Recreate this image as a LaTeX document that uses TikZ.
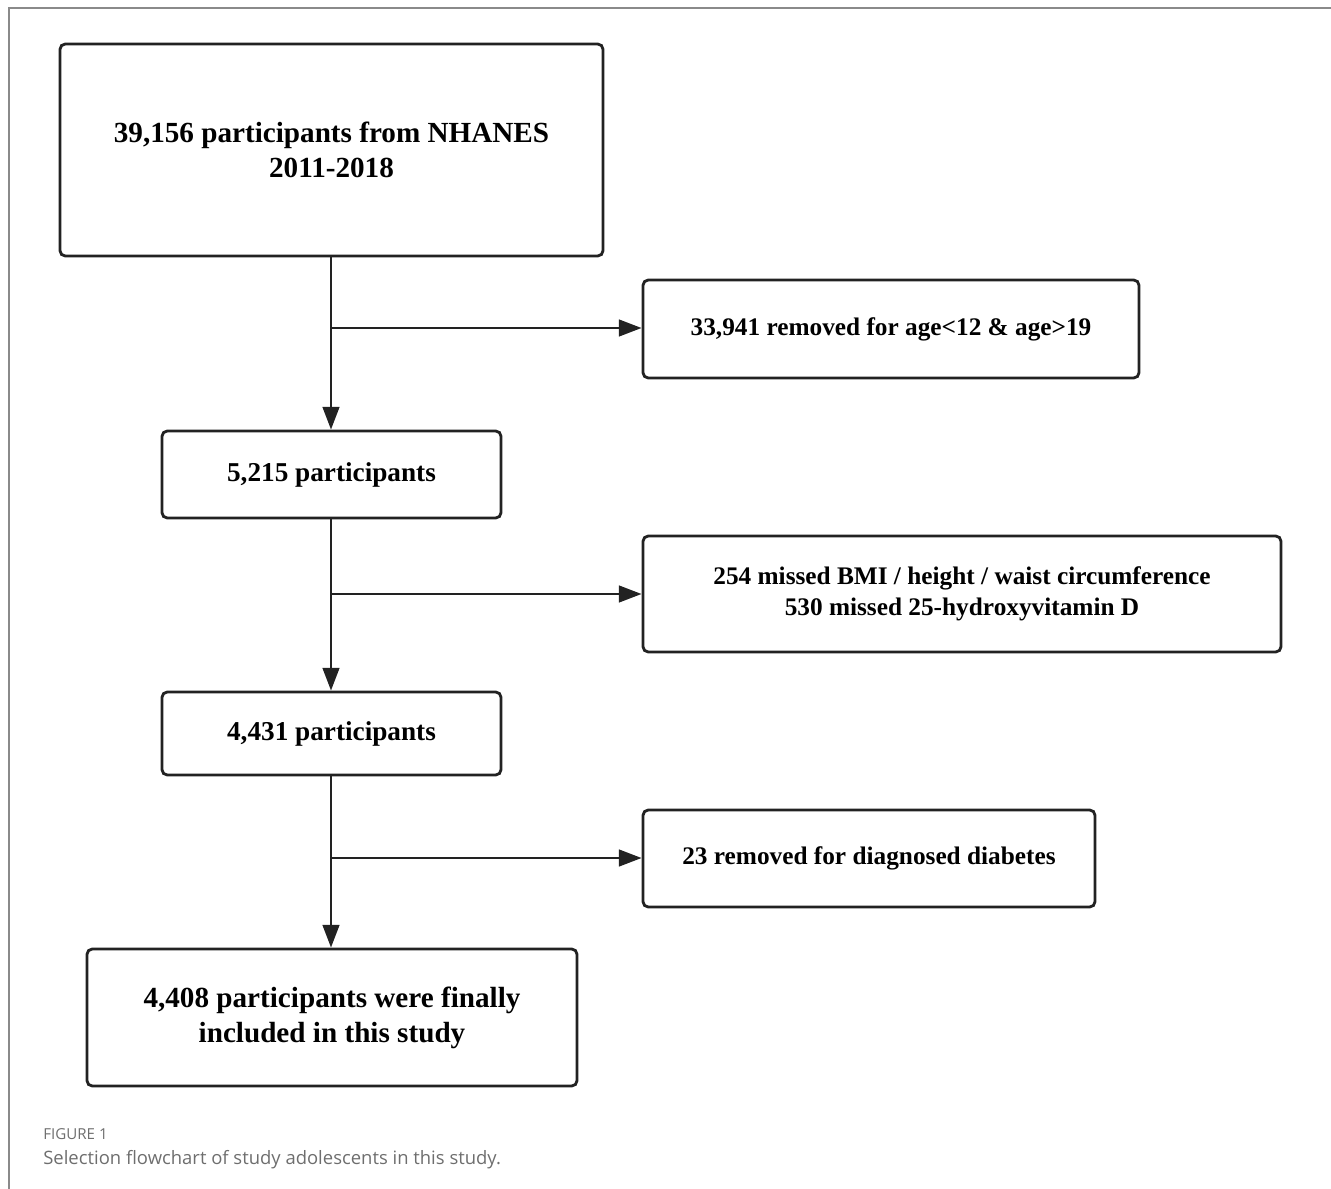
\documentclass[tikz,border=0pt]{standalone}
\usepackage{fontspec}
\setmainfont{Liberation Serif}
\newfontfamily\capfont{Open Sans}
\usetikzlibrary{arrows.meta}
\newlength\px \setlength\px{0.02cm}
\definecolor{linecol}{HTML}{222222}
\definecolor{framecol}{HTML}{8A8A8A}
\definecolor{capcol}{HTML}{6E6E6E}
\tikzset{
  box/.style={draw=linecol, line width=1.6pt, rounded corners=3pt, align=center, inner sep=0pt,
    font=\fontsize{16.6}{19.8}\selectfont\bfseries},
  midbox/.style={box, font=\fontsize{15.5}{18.5}\selectfont\bfseries},
  exclbox/.style={box, font=\fontsize{14.4}{17.6}\selectfont\bfseries},
  flow/.style={draw=linecol, line width=1.5pt, -{Triangle[length=13pt,width=9.5pt]}},
}

\begin{document}
\begin{tikzpicture}[x=1\px, y=-1\px] %coordenadas em pixels da figura
	\useasboundingbox (0,0) rectangle (1331,1189);
	\draw[framecol, line width=1.1pt] (1331,8) -- (9,8) -- (9,1189); %moldura
		%Caixas do fluxo principal
	\node[box, minimum width=543\px, minimum height=212\px] (nhanes) at (331.5,150) {39,156 participants from NHANES\\2011-2018};
	\node[midbox, minimum width=339\px, minimum height=87\px] (part1) at (331.5,474.5) {5,215 participants};
	\node[midbox, minimum width=339\px, minimum height=83\px] (part2) at (331.5,733.5) {4,431 participants};
	\node[box, minimum width=490\px, minimum height=137\px] (final) at (332,1017.5) {4,408 participants were finally\\included in this study};
		%Caixas de exclusao
	\node[exclbox, minimum width=496\px, minimum height=98\px] (excl1) at (891,329) {33,941 removed for age<12 \& age>19};
	\node[exclbox, minimum width=638\px, minimum height=116\px] (excl2) at (962,594) {254 missed BMI / height / waist circumference\\530 missed 25-hydroxyvitamin D};
	\node[exclbox, minimum width=452\px, minimum height=97\px] (excl3) at (869,858.5) {23 removed for diagnosed diabetes};
		%Setas
	\coordinate (fork1) at (331,328);
	\coordinate (fork2) at (331,594);
	\coordinate (fork3) at (331,858);
	\draw[flow] (nhanes.south -| fork1) -- (part1.north -| fork1);
	\draw[flow] (part1.south -| fork2) -- (part2.north -| fork2);
	\draw[flow] (part2.south -| fork3) -- (final.north -| fork3);
	\draw[flow] (fork1) -- (fork1 -| excl1.west);
	\draw[flow] (fork2) -- (fork2 -| excl2.west);
	\draw[flow] (fork3) -- (fork3 -| excl3.west);
		%Legenda
	\node[anchor=base west, inner sep=0pt, text=capcol, font=\capfont\fontsize{8.6}{10}\selectfont] (figno) at (43,1139) {FIGURE 1};
	\node[anchor=base west, inner sep=0pt, text=capcol, font=\capfont\fontsize{10.5}{12}\selectfont] (caption) at (43,1164) {Selection flowchart of study adolescents in this study.};
\end{tikzpicture}
\end{document}
